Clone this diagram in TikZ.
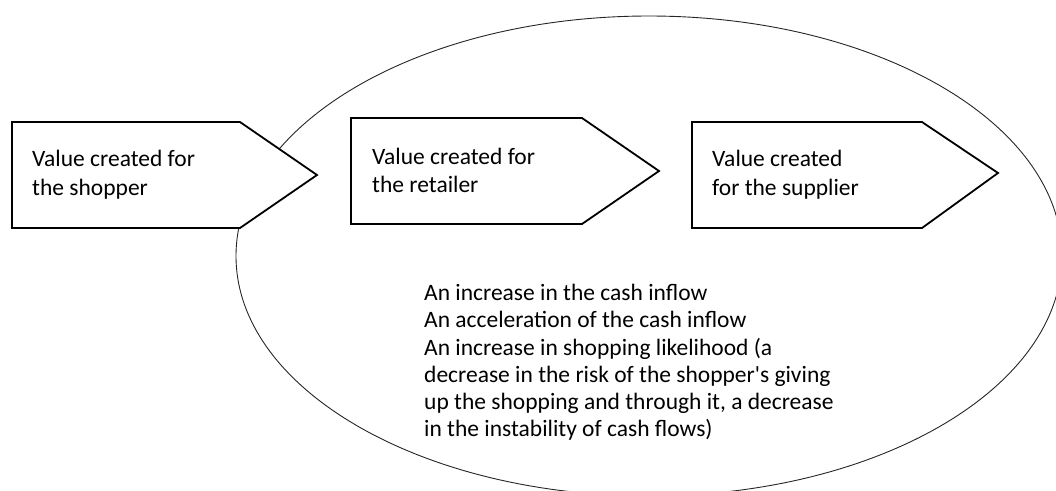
\documentclass[tikz,border=0pt]{standalone}
\usepackage{fontspec}
\setmainfont{Carlito}
\begin{document}
\begin{tikzpicture}[x=1pt,y=-1pt,
  pentagon/.style={draw=black,fill=white,line width=1.8pt,line join=miter},
  ring/.style={draw=black!85,line width=0.9pt},
  boxtext/.style={inner sep=0pt,align=left,anchor=base west,
    font=\fontsize{23.5}{28.3}\selectfont},
  bodytext/.style={inner sep=0pt,align=left,anchor=base west,
    font=\fontsize{23.5}{27.2}\selectfont}]
  \useasboundingbox (0,0) rectangle (1056,490);
  \clip (0,0) rectangle (1056,490);
  % large ellipse behind the three value blocks
  \draw[ring] (649,256) ellipse [x radius=413pt, y radius=240pt];
  % pentagon arrows
  \draw[pentagon] (12,122) -- (240,122) -- (317,175) -- (240,228) -- (12,228) -- cycle;
  \draw[pentagon] (351,118) -- (582,118) -- (659,171) -- (582,224) -- (351,224) -- cycle;
  \draw[pentagon] (692,122) -- (922,122) -- (998,173) -- (922,228) -- (692,228) -- cycle;
  % labels (anchored at the baseline of their last line)
  \node[boxtext] (shopper) at (32,195) {Value created for\\the shopper};
  \node[boxtext] (retailer) at (372,192.7) {Value created for\\the retailer};
  \node[boxtext] (supplier) at (712,195) {Value created\\for the supplier};
  \node[bodytext] (effects) at (424,436.7) {An increase in the cash inflow\\
    An acceleration of the cash inflow\\
    An increase in shopping likelihood (a\\
    decrease in the risk of the shopper\textquotesingle s giving\\
    up the shopping and through it, a decrease\\
    in the instability of cash flows)};
\end{tikzpicture}
\end{document}
